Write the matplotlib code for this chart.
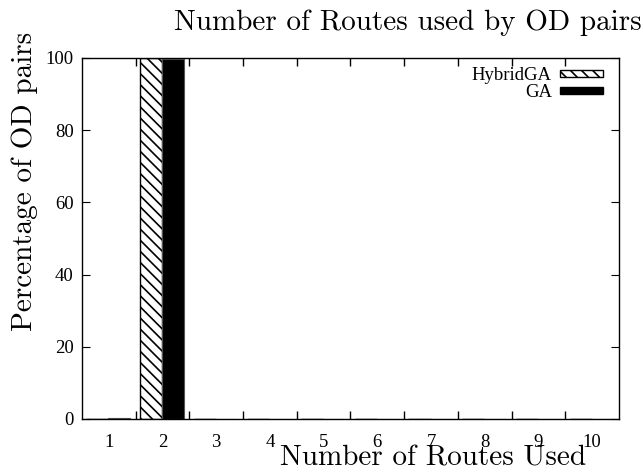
import numpy as np
import matplotlib
matplotlib.use("Agg")
import matplotlib.pyplot as plt
from matplotlib.patches import Rectangle

# number of routes used per OD pair
routes = [1, 2, 3, 4, 5, 6, 7, 8, 9, 10]
hybrid_ga = [0, 100, 0, 0, 0, 0, 0, 0, 0, 0]
ga = [0.3, 99.7, 0, 0, 0, 0, 0, 0, 0, 0]
yticks = [0, 20, 40, 60, 80, 100]

plt.rcParams['hatch.linewidth'] = 1.2

TICK_FONT = 'Liberation Serif'
TICK_SIZE = 13.5
LABEL_SIZE = 21


def make_plot():
    fig = plt.figure(figsize=(6.43, 4.73), dpi=100)
    ax = fig.add_axes([0.1275, 0.1142, 0.8352, 0.7632])

    x = np.array(routes)
    bw = 0.41
    ax.bar(x - 0.42, hybrid_ga, width=bw, align='edge', color='white',
           edgecolor='black', hatch='\\\\\\', linewidth=1.0, label='HybridGA')
    ax.bar(x - 0.01, ga, width=bw, align='edge', color='black',
           edgecolor='#555555', linewidth=0.8, label='GA')

    ax.set_xlim(0.5, 10.5)
    ax.set_ylim(0, 100)

    ax.set_xticks(x)
    ax.set_xticklabels([str(r) for r in routes], family=TICK_FONT, fontsize=TICK_SIZE)
    ax.set_xticks(np.arange(1.5, 10.5, 1.0), minor=True)
    ax.tick_params(axis='x', which='major', length=0, pad=11)
    ax.tick_params(axis='x', which='minor', direction='in', length=6,
                   top=True, bottom=True, width=1.0)

    ax.set_yticks(yticks)
    ax.set_yticklabels([str(v) for v in yticks], family=TICK_FONT, fontsize=TICK_SIZE)
    ax.tick_params(axis='y', direction='in', length=6, left=True, right=True, pad=6)

    for s in ax.spines.values():
        s.set_linewidth(1.0)

    # legend drawn by hand, gnuplot style (label left of sample)
    items = [('HybridGA', dict(facecolor='white', edgecolor='black', hatch='\\\\\\')),
             ('GA', dict(facecolor='black', edgecolor='black'))]
    ys = [0.957, 0.911]
    for (name, style), yy in zip(items, ys):
        ax.add_patch(Rectangle((0.890, yy - 0.0097), 0.080, 0.0194,
                               transform=ax.transAxes, linewidth=1.0,
                               clip_on=False, **style))
        ax.text(0.875, yy, name, transform=ax.transAxes, ha='right',
                va='center_baseline', family=TICK_FONT, fontsize=TICK_SIZE)

    fig.text(0.6345, 0.9366, 'Number of Routes used by OD pairs', family='cmr10',
             fontsize=LABEL_SIZE, ha='center', va='baseline')
    fig.text(0.674, 0.0169, 'Number of Routes Used', family='cmr10',
             fontsize=LABEL_SIZE, ha='center', va='baseline')
    fig.text(0.039, 0.617, 'Percentage of OD pairs', family='cmr10',
             fontsize=LABEL_SIZE, ha='center', va='center', rotation=90)

    fig.savefig('out.png', dpi=100)


def main():
    make_plot()


if __name__ == "__main__":
    main()
